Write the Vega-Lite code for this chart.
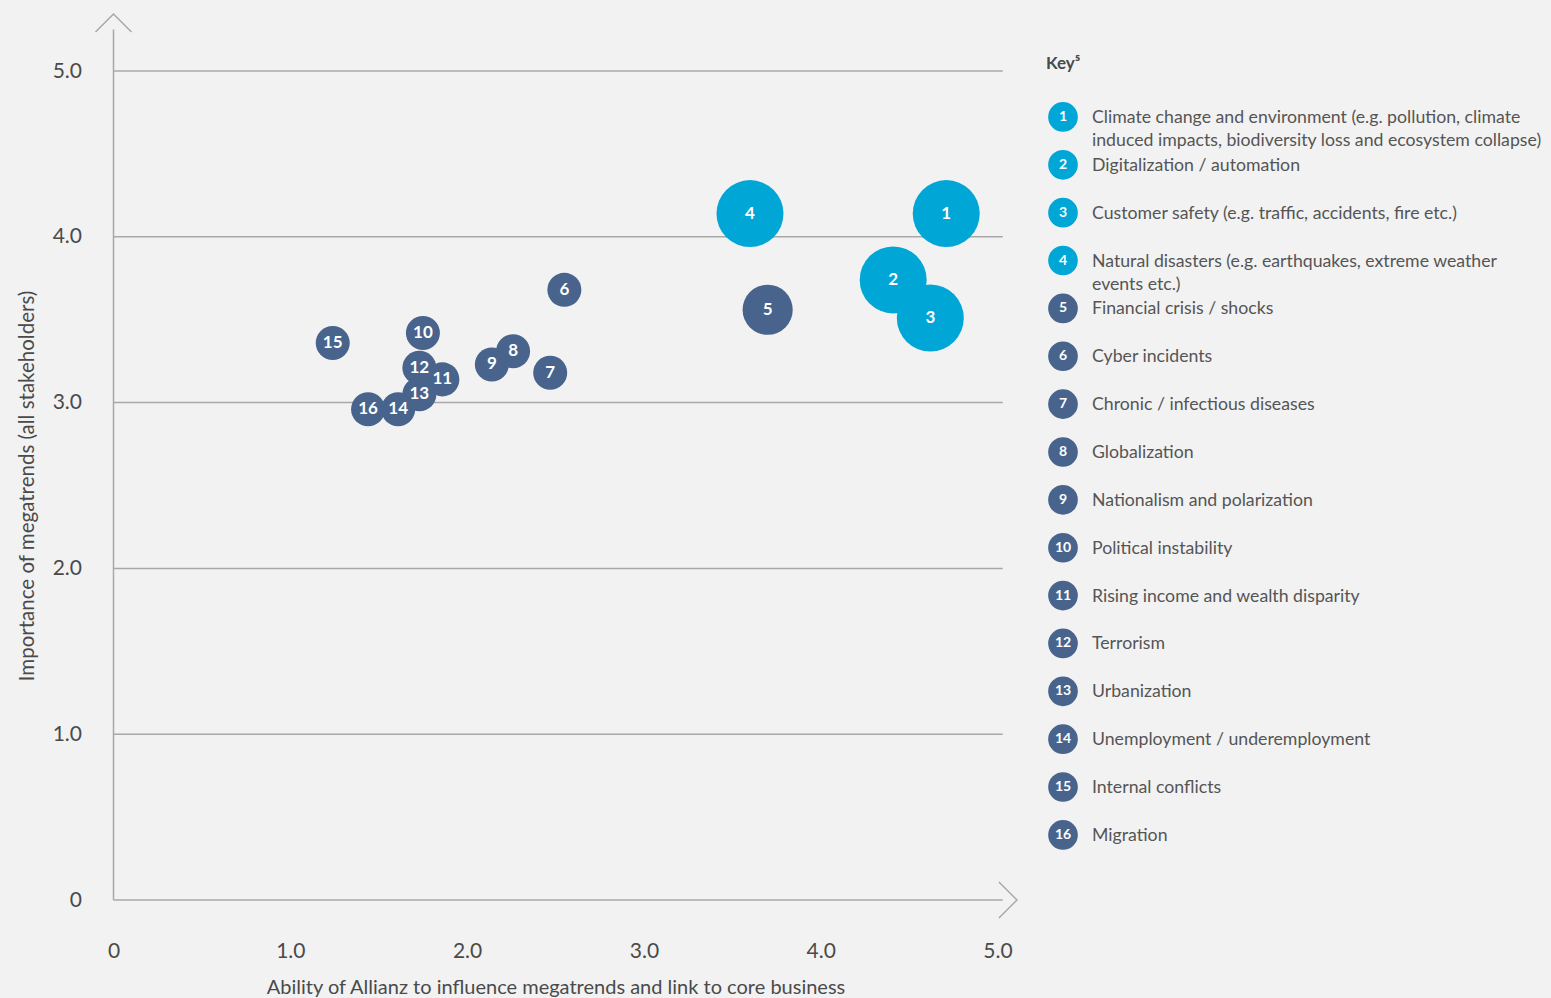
{
  "$schema": "https://vega.github.io/schema/vega-lite/v6.json",
  "background": "#f2f2f2",
  "padding": {"left": 16.5, "top": 10, "right": 0, "bottom": 6},
  "autosize": {"type": "pad"},
  "config": {
    "view": {"stroke": null},
    "font": "Lato",
    "concat": {"spacing": 25.5}
  },
  "datasets": {
    "megatrends": [
      {"id": 1, "label": "Climate change and environment (e.g. pollution, climate\ninduced impacts, biodiversity loss and ecosystem collapse)", "ability": 4.71, "importance": 4.14, "tier": "Top", "weight": 3},
      {"id": 2, "label": "Digitalization / automation", "ability": 4.41, "importance": 3.74, "tier": "Top", "weight": 3},
      {"id": 3, "label": "Customer safety (e.g. traffic, accidents, fire etc.)", "ability": 4.62, "importance": 3.51, "tier": "Top", "weight": 3},
      {"id": 4, "label": "Natural disasters (e.g. earthquakes, extreme weather\nevents etc.)", "ability": 3.6, "importance": 4.14, "tier": "Top", "weight": 3},
      {"id": 5, "label": "Financial crisis / shocks", "ability": 3.7, "importance": 3.56, "tier": "Other", "weight": 2},
      {"id": 6, "label": "Cyber incidents", "ability": 2.55, "importance": 3.68, "tier": "Other", "weight": 1},
      {"id": 7, "label": "Chronic / infectious diseases", "ability": 2.47, "importance": 3.18, "tier": "Other", "weight": 1},
      {"id": 8, "label": "Globalization", "ability": 2.26, "importance": 3.31, "tier": "Other", "weight": 1},
      {"id": 9, "label": "Nationalism and polarization", "ability": 2.14, "importance": 3.23, "tier": "Other", "weight": 1},
      {"id": 10, "label": "Political instability", "ability": 1.75, "importance": 3.42, "tier": "Other", "weight": 1},
      {"id": 11, "label": "Rising income and wealth disparity", "ability": 1.86, "importance": 3.14, "tier": "Other", "weight": 1},
      {"id": 12, "label": "Terrorism", "ability": 1.73, "importance": 3.21, "tier": "Other", "weight": 1},
      {"id": 13, "label": "Urbanization", "ability": 1.73, "importance": 3.05, "tier": "Other", "weight": 1},
      {"id": 14, "label": "Unemployment / underemployment", "ability": 1.61, "importance": 2.96, "tier": "Other", "weight": 1},
      {"id": 15, "label": "Internal conflicts", "ability": 1.24, "importance": 3.36, "tier": "Other", "weight": 1},
      {"id": 16, "label": "Migration", "ability": 1.44, "importance": 2.96, "tier": "Other", "weight": 1}
    ],
    "gridlines": [{"level": 0}, {"level": 1}, {"level": 2}, {"level": 3}, {"level": 4}, {"level": 5}],
    "single": [{"item": "axis"}]
  },
  "hconcat": [
    {
      "width": 884,
      "height": 829,
      "layer": [
        {
          "data": {"name": "gridlines"},
          "mark": {"type": "rule", "color": "#a8a8a8", "strokeWidth": 1.5},
          "encoding": {
            "x": {"datum": 0, "type": "quantitative", "scale": {"domain": [0, 5], "nice": false, "zero": false}},
            "x2": {"datum": 5.03},
            "y": {"field": "level", "type": "quantitative", "scale": {"domain": [0, 5], "nice": false, "zero": false}}
          }
        },
        {
          "data": {"name": "single"},
          "mark": {"type": "rule", "color": "#a8a8a8", "strokeWidth": 1.5},
          "encoding": {
            "x": {"datum": 0, "type": "quantitative", "scale": {"domain": [0, 5], "nice": false, "zero": false}},
            "y": {"datum": 0, "type": "quantitative", "scale": {"domain": [0, 5], "nice": false, "zero": false}},
            "y2": {"datum": 5.25}
          }
        },
        {
          "data": {"name": "single"},
          "mark": {"type": "point", "shape": "M-1,1L0,0L1,1", "filled": false, "stroke": "#a8a8a8", "strokeWidth": 1.5, "size": 1296, "opacity": 1},
          "encoding": {
            "x": {"datum": 0, "type": "quantitative", "scale": {"domain": [0, 5], "nice": false, "zero": false}},
            "y": {"datum": 5.344, "type": "quantitative", "scale": {"domain": [0, 5], "nice": false, "zero": false}}
          }
        },
        {
          "data": {"name": "single"},
          "mark": {"type": "point", "shape": "M-1,-1L0,0L-1,1", "filled": false, "stroke": "#a8a8a8", "strokeWidth": 1.5, "size": 1296, "opacity": 1},
          "encoding": {
            "x": {"datum": 5.11, "type": "quantitative", "scale": {"domain": [0, 5], "nice": false, "zero": false}},
            "y": {"datum": 0, "type": "quantitative", "scale": {"domain": [0, 5], "nice": false, "zero": false}}
          }
        },
        {
          "data": {"name": "megatrends"},
          "mark": {"type": "circle", "opacity": 1},
          "encoding": {
            "x": {
              "field": "ability", "type": "quantitative",
              "scale": {"domain": [0, 5], "nice": false, "zero": false},
              "axis": {
                "title": "Ability of Allianz to influence megatrends and link to core business",
                "values": [0, 1, 2, 3, 4, 5],
                "labelExpr": "datum.value == 0 ? '0' : format(datum.value, '.1f')",
                "domain": false, "ticks": false, "grid": false,
                "labelFlush": false,
                "labelFontSize": 21, "labelColor": "#4a4a4a", "labelPadding": 40,
                "titleFontSize": 20, "titleFontWeight": "normal", "titleColor": "#4a4a4a", "titlePadding": 16
              }
            },
            "y": {
              "field": "importance", "type": "quantitative",
              "scale": {"domain": [0, 5], "nice": false, "zero": false},
              "axis": {
                "title": "Importance of megatrends (all stakeholders)",
                "values": [0, 1, 2, 3, 4, 5],
                "labelExpr": "datum.value == 0 ? '0' : format(datum.value, '.1f')",
                "domain": false, "ticks": false, "grid": false,
                "labelFontSize": 21, "labelColor": "#4a4a4a", "labelPadding": 32,
                "titleFontSize": 20.5, "titleFontWeight": "normal", "titleColor": "#4a4a4a", "titlePadding": 15
              }
            },
            "size": {"field": "weight", "type": "quantitative", "scale": {"type": "linear", "domain": [1, 2, 3], "range": [1158, 2516, 4489]}, "legend": null},
            "color": {"field": "tier", "type": "nominal", "scale": {"domain": ["Top", "Other"], "range": ["#00a6d6", "#48648c"]}, "legend": null}
          }
        },
        {
          "data": {"name": "megatrends"},
          "mark": {"type": "text", "color": "#ffffff", "fontWeight": "bold", "fontSize": 17, "baseline": "middle", "align": "center"},
          "encoding": {
            "x": {"field": "ability", "type": "quantitative", "scale": {"domain": [0, 5], "nice": false, "zero": false}},
            "y": {"field": "importance", "type": "quantitative", "scale": {"domain": [0, 5], "nice": false, "zero": false}},
            "text": {"field": "id", "type": "nominal"}
          }
        }
      ]
    },
    {
      "width": 488,
      "height": 829,
      "data": {"name": "megatrends"},
      "layer": [
        {
          "mark": {"type": "circle", "size": 880, "opacity": 1},
          "encoding": {
            "x": {"datum": 0, "type": "quantitative", "scale": {"domain": [0, 1], "nice": false, "zero": false}, "axis": null},
            "y": {"field": "id", "type": "quantitative", "scale": {"domain": [0.04, 17.36], "reverse": true, "nice": false, "zero": false}, "axis": null},
            "color": {"field": "tier", "type": "nominal", "scale": {"domain": ["Top", "Other"], "range": ["#00a6d6", "#48648c"]}, "legend": null}
          }
        },
        {
          "mark": {"type": "text", "color": "#ffffff", "fontWeight": "bold", "fontSize": 14, "baseline": "middle", "align": "center"},
          "encoding": {
            "x": {"datum": 0, "type": "quantitative", "scale": {"domain": [0, 1], "nice": false, "zero": false}, "axis": null},
            "y": {"field": "id", "type": "quantitative", "scale": {"domain": [0.04, 17.36], "reverse": true, "nice": false, "zero": false}, "axis": null},
            "text": {"field": "id", "type": "nominal"}
          }
        },
        {
          "mark": {"type": "text", "color": "#555555", "fontSize": 17.7, "baseline": "alphabetic", "align": "left", "dx": 29, "dy": 6, "lineBreak": "\n", "lineHeight": 23},
          "encoding": {
            "x": {"datum": 0, "type": "quantitative", "scale": {"domain": [0, 1], "nice": false, "zero": false}, "axis": null},
            "y": {"field": "id", "type": "quantitative", "scale": {"domain": [0.04, 17.36], "reverse": true, "nice": false, "zero": false}, "axis": null},
            "text": {"field": "label", "type": "nominal"}
          }
        },
        {
          "data": {"name": "single"},
          "mark": {"type": "text", "color": "#4a4a4a", "fontSize": 17, "fontWeight": "bold", "baseline": "middle", "align": "left", "dx": -17},
          "encoding": {
            "x": {"datum": 0, "type": "quantitative", "scale": {"domain": [0, 1], "nice": false, "zero": false}, "axis": null},
            "y": {"datum": -0.107, "type": "quantitative", "scale": {"domain": [0.04, 17.36], "reverse": true, "nice": false, "zero": false}, "axis": null},
            "text": {"value": "Key⁵"}
          }
        }
      ]
    }
  ]
}
